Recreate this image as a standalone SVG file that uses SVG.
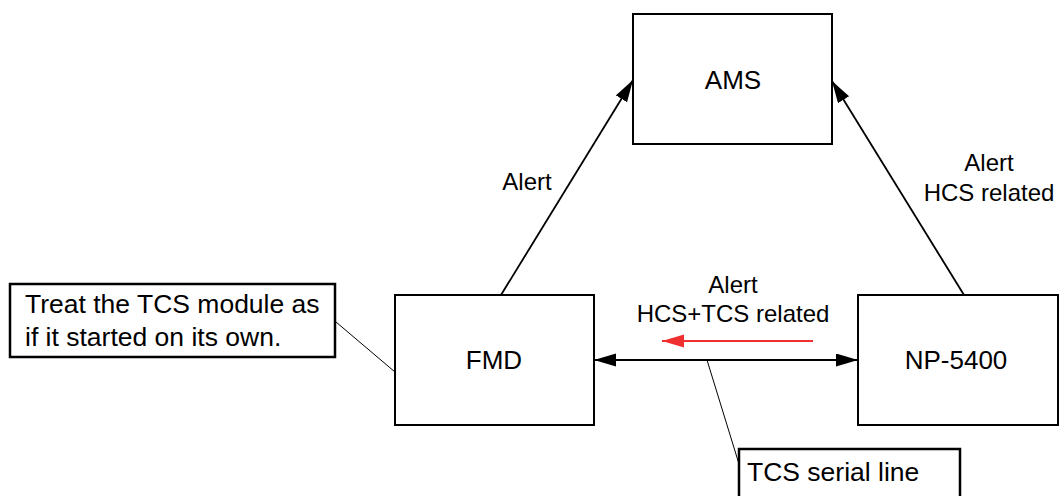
<svg xmlns="http://www.w3.org/2000/svg" width="1059" height="496" viewBox="0 0 1059 496">
<style>
.box{fill:#fff;stroke:#000;stroke-width:2}
.note{fill:#fff;stroke:#000;stroke-width:2.5}
.t{font-family:"Liberation Sans",Arial,sans-serif;fill:#000}
.bt{font-size:26px;text-anchor:middle}
.lt{font-size:24px;text-anchor:middle}
.nt{font-size:26.5px}
.ln{stroke:#000;stroke-width:1.8;fill:none}
.ld{stroke:#000;stroke-width:1;fill:none}
</style>
<defs>
<marker id="ah" markerUnits="userSpaceOnUse" markerWidth="24" markerHeight="16" refX="22" refY="6.5" orient="auto-start-reverse" viewBox="0 0 24 16">
<path d="M0,0 L22,6.5 L0,13 Z" fill="#000"/>
</marker>
<marker id="ahr" markerUnits="userSpaceOnUse" markerWidth="24" markerHeight="16" refX="22" refY="6.5" orient="auto" viewBox="0 0 24 16">
<path d="M0,0 L22,6.5 L0,13 Z" fill="#f03030"/>
</marker>
</defs>
<g id="connectors">
<line class="ln" x1="501" y1="295" x2="633" y2="80" marker-end="url(#ah)"/>
<line class="ln" x1="964" y1="295" x2="832" y2="81" marker-end="url(#ah)"/>
<line class="ln" x1="594" y1="360" x2="858" y2="360" marker-start="url(#ah)" marker-end="url(#ah)"/>
<line x1="813" y1="341" x2="662" y2="341" stroke="#f03030" stroke-width="2" marker-end="url(#ahr)"/>
<line class="ld" x1="336" y1="322" x2="395" y2="372"/>
<line class="ld" x1="707" y1="360" x2="739" y2="464"/>
<text class="t lt" x="527" y="190">Alert</text>
<text class="t lt" x="989" y="171">Alert</text>
<text class="t lt" x="989" y="201">HCS related</text>
<text class="t lt" x="733" y="293">Alert</text>
<text class="t lt" x="733" y="322">HCS+TCS related</text>
</g>
<g id="ams">
<rect class="box" x="633" y="14" width="199" height="130"/>
<text class="t bt" x="733" y="89">AMS</text>
</g>
<g id="fmd">
<rect class="box" x="395" y="295" width="199" height="130"/>
<text class="t bt" x="494" y="369">FMD</text>
</g>
<g id="np5400">
<rect class="box" x="858" y="295" width="200" height="130"/>
<text class="t bt" x="956" y="369">NP-5400</text>
</g>
<g id="note-tcs-module">
<rect class="note" x="10" y="284" width="325" height="73"/>
<text class="t nt" x="25" y="313">Treat the TCS module as</text>
<text class="t nt" x="25" y="346">if it started on its own.</text>
</g>
<g id="note-serial">
<rect class="note" x="739" y="449" width="221" height="60"/>
<text class="t nt" x="747" y="481">TCS serial line</text>
</g>
</svg>
